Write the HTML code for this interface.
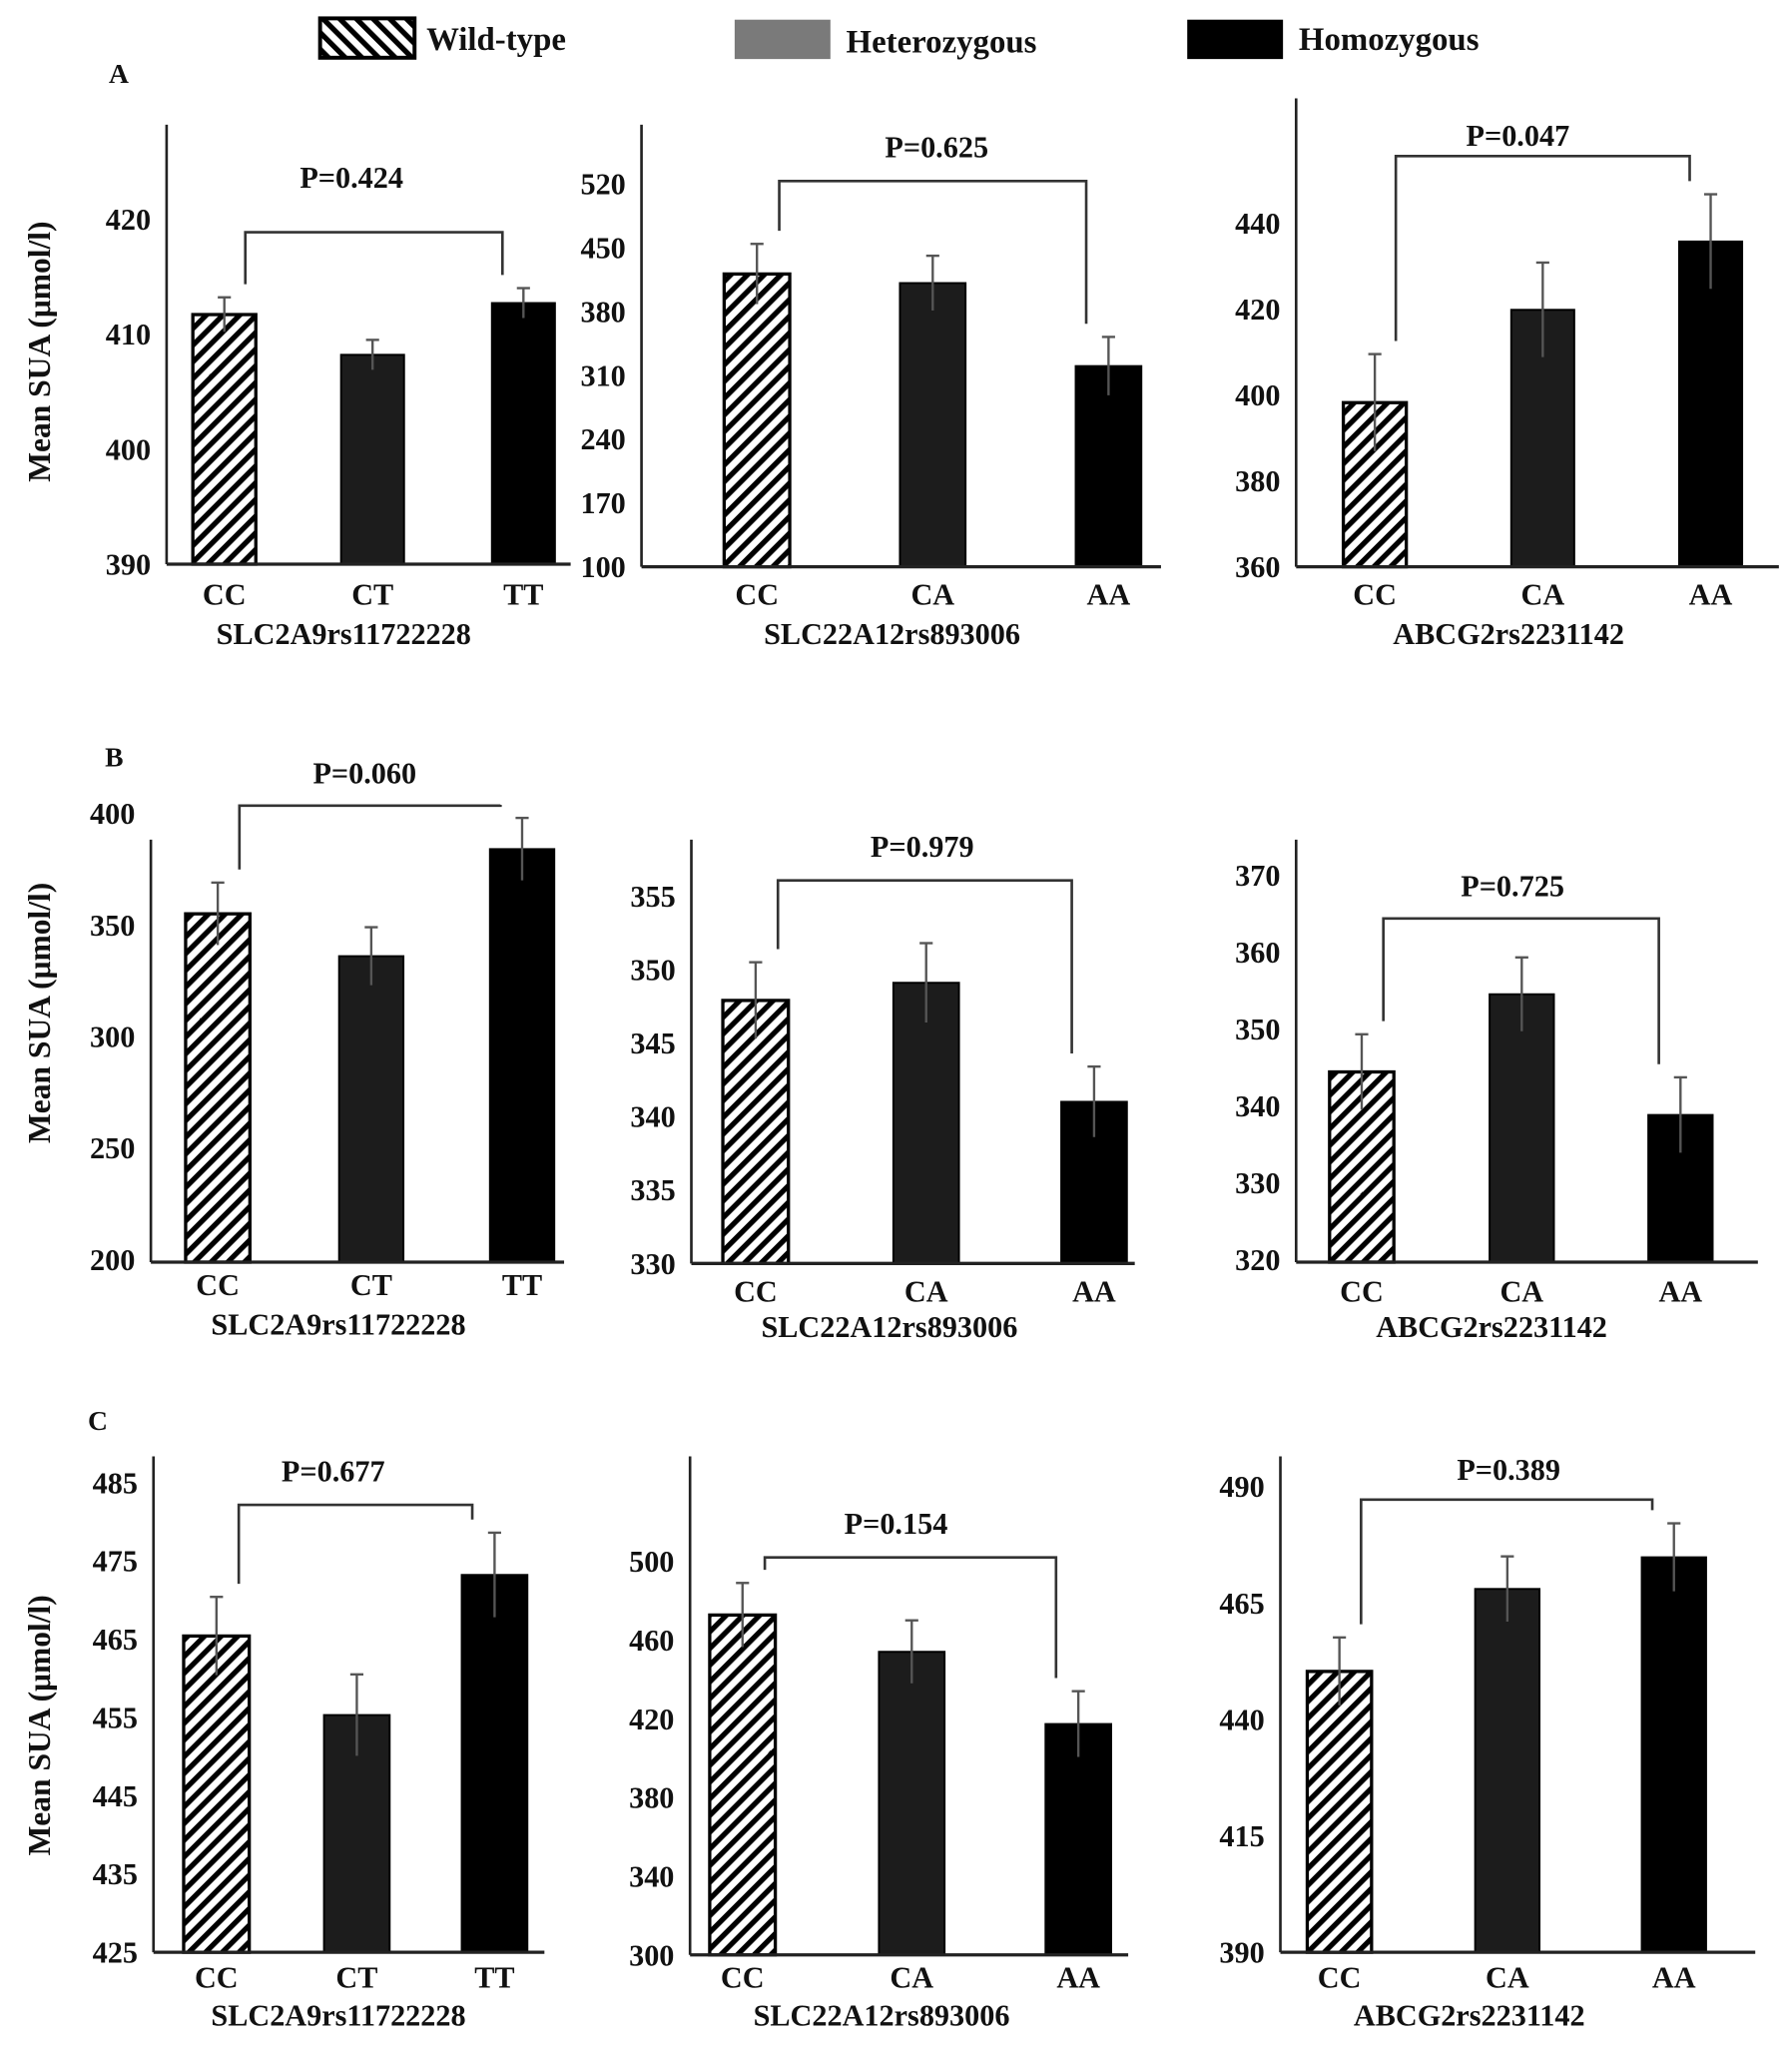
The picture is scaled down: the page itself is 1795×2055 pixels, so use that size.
<!DOCTYPE html>
<html><head><meta charset="utf-8"><style>
html,body{margin:0;padding:0;background:#fff}
svg{display:block}
text{font-family:"Liberation Serif",serif;font-weight:bold;fill:#111}
</style></head><body>
<svg id="fig" width="1795" height="2055" viewBox="0 0 1366 1564" preserveAspectRatio="none" xmlns="http://www.w3.org/2000/svg">
<defs>
<pattern id="hatch" patternUnits="userSpaceOnUse" width="9" height="9" patternTransform="rotate(45)">
<rect width="9" height="9" fill="#fff"/><rect x="0" y="0" width="4" height="9" fill="#000"/>
</pattern>
<pattern id="hatchL" patternUnits="userSpaceOnUse" width="9" height="9" patternTransform="rotate(-45)">
<rect width="9" height="9" fill="#fff"/><rect x="0" y="0" width="4" height="9" fill="#000"/>
</pattern>
</defs>
<g>
<rect x="244" y="14" width="72" height="30" fill="url(#hatchL)" stroke="#000" stroke-width="3"/>
<text x="325" y="38" font-size="25">Wild-type</text>
<rect x="560" y="15" width="73" height="30" fill="#7a7a7a"/>
<text x="645" y="40" font-size="25">Heterozygous</text>
<rect x="905" y="15" width="73" height="30" fill="#000"/>
<text x="990" y="38" font-size="25">Homozygous</text>
</g>
<text x="83" y="63" font-size="21">A</text>
<text x="80" y="584" font-size="21">B</text>
<text x="67" y="1090" font-size="21">C</text>
<text transform="translate(38,268) rotate(-90)" text-anchor="middle" font-size="24">Mean SUA (μmol/l)</text>
<text transform="translate(38,772) rotate(-90)" text-anchor="middle" font-size="24">Mean SUA (μmol/l)</text>
<text transform="translate(38,1315) rotate(-90)" text-anchor="middle" font-size="24">Mean SUA (μmol/l)</text>
</svg>
<script>
// ---- data ----
const genes = ["SLC2A9rs11722228","SLC22A12rs893006","ABCG2rs2231142"];
const catsA = ["CC","CT","TT"];
const catsB = ["CC","CA","AA"];
const pValues = ["P=0.424","P=0.625","P=0.047","P=0.060","P=0.979","P=0.725","P=0.677","P=0.154","P=0.389"];
const meansA1 = [411.7,408.2,412.7]; const errA1 = [1.5,1.3,1.3];
const meansA2 = [421,411,320];       const errA2 = [33,30,32];
const meansA3 = [398.2,419.8,435.7]; const errA3 = [11.3,11,11];
const meansB1 = [355,336,384];       const errB1 = [14,13,14];
const meansB2 = [347.9,349.1,341];   const errB2 = [2.6,2.7,2.4];
const meansB3 = [344.4,354.5,338.8]; const errB3 = [4.9,4.8,4.9];
const meansC1 = [465.4,455.3,473.2]; const errC1 = [5,5.2,5.4];
const meansC2 = [472.7,454,417.3];   const errC2 = [16.3,16,16.7];
const meansC3 = [450.3,468,474.8];   const errC3 = [7.3,7,7.3];
const ticksA1 = [390,400,410,420];
const ticksA2 = [100,170,240,310,380,450,520];
const ticksA3 = [360,380,400,420,440];
const ticksB1 = [200,250,300,350,400];
const ticksB2 = [330,335,340,345,350,355];
const ticksB3 = [320,330,340,350,360,370];
const ticksC1 = [425,435,445,455,465,475,485];
const ticksC2 = [300,340,380,420,460,500];
const ticksC3 = [390,415,440,465,490];

// ---- layout (pixel geometry only) ----
const layouts = [
 {ax:127,top:95,base:430,right:435,pxLo:430,pxHi:167,xs:[171,284,399],bw:48,brY:177,pY:143,pX:268,labY:461,geneY:491,geneX:262},
 {ax:489,top:95,base:432,right:885,pxLo:432,pxHi:140,xs:[577,711,845],bw:50,brY:138,pY:120,pX:714,labY:461,geneY:491,geneX:680},
 {ax:988,top:75,base:432,right:1356,pxLo:432,pxHi:170,xs:[1048,1176,1304],bw:48,brY:119,pY:111,pX:1157,labY:461,geneY:491,geneX:1150},
 {ax:115,top:640,base:962,right:430,pxLo:960,pxHi:620,xs:[166,283,398],bw:49,brY:614,pY:597,pX:278,labY:987,geneY:1017,geneX:258},
 {ax:527,top:640,base:963,right:865,pxLo:963,pxHi:683,xs:[576,706,834],bw:50,brY:671,pY:653,pX:703,labY:992,geneY:1019,geneX:678},
 {ax:988,top:640,base:962,right:1340,pxLo:960,pxHi:667,xs:[1038,1160,1281],bw:49,brY:700,pY:683,pX:1153,labY:992,geneY:1019,geneX:1137},
 {ax:117,top:1110,base:1488,right:415,pxLo:1488,pxHi:1130,xs:[165,272,377],bw:50,brY:1147,pY:1129,pX:254,labY:1515,geneY:1544,geneX:258},
 {ax:526,top:1110,base:1490,right:860,pxLo:1490,pxHi:1190,xs:[566,695,822],bw:50,brY:1187,pY:1169,pX:683,labY:1515,geneY:1544,geneX:672},
 {ax:976,top:1110,base:1488,right:1338,pxLo:1488,pxHi:1133,xs:[1021,1149,1276],bw:49,brY:1143,pY:1128,pX:1150,labY:1515,geneY:1544,geneX:1120}
];
const charts = [
 [meansA1,errA1,ticksA1,catsA,0],[meansA2,errA2,ticksA2,catsB,1],[meansA3,errA3,ticksA3,catsB,2],
 [meansB1,errB1,ticksB1,catsA,0],[meansB2,errB2,ticksB2,catsB,1],[meansB3,errB3,ticksB3,catsB,2],
 [meansC1,errC1,ticksC1,catsA,0],[meansC2,errC2,ticksC2,catsB,1],[meansC3,errC3,ticksC3,catsB,2]
];
const NS="http://www.w3.org/2000/svg";
const svg=document.getElementById('fig');
function mk(tag,attrs,parent){const e=document.createElementNS(NS,tag);for(const k in attrs)e.setAttribute(k,attrs[k]);parent.appendChild(e);return e;}
const fills=["url(#hatch)","#1c1c1c","#000"];
charts.forEach((c,i)=>{
 const [means,errs,ticks,cats,gi]=c; const L=layouts[i];
 const lo=ticks[0], hi=ticks[ticks.length-1];
 const y=v=>L.pxLo-(v-lo)*(L.pxLo-L.pxHi)/(hi-lo);
 const g=mk('g',{},svg);
 
 
 const ya=mk('line',{x1:L.ax,y1:L.top,x2:L.ax,y2:L.base,stroke:'#222','stroke-width':2},g);
 
 
 ticks.forEach(t=>{
  const tx=mk('text',{x:L.ax-12,y:y(t)+8,'text-anchor':'end','font-size':23},g);
  
  
  tx.textContent=t;
 });
 means.forEach((m,j)=>{
  const x=L.xs[j];
  const r=mk('rect',{x:x-L.bw/2,y:y(m),width:L.bw,height:L.base-y(m),fill:fills[j],stroke:'#000','stroke-width':j==0?2.5:1.5},g);
  
  
  const e=mk('line',{x1:x,y1:y(m+errs[j]),x2:x,y2:y(m-errs[j]),stroke:'#555','stroke-width':1.8},g);
  
  
  const cap=mk('line',{x1:x-5,y1:y(m+errs[j]),x2:x+5,y2:y(m+errs[j]),stroke:'#555','stroke-width':1.8},g);
  
  
  const lb=mk('text',{x:x,y:L.labY,'text-anchor':'middle','font-size':23},g);
  
  
  lb.textContent=cats[j];
 });
 const xa=mk('line',{x1:L.ax,y1:L.base,x2:L.right,y2:L.base,stroke:'#222','stroke-width':2.5},g);
 
 
 const x0=L.xs[0]+L.bw/2-8, x2=L.xs[2]-L.bw/2+8;
 const yl=y(means[0]+errs[0])-10, yr=y(means[2]+errs[2])-10;
 const br=mk('polyline',{points:`${x0},${yl} ${x0},${L.brY} ${x2},${L.brY} ${x2},${yr}`,fill:'none',stroke:'#333','stroke-width':2},g);
 
 
 const pt=mk('text',{x:L.pX,y:L.pY,'text-anchor':'middle','font-size':23},g);
 
 
 pt.textContent=pValues[i];
 const gn=mk('text',{x:L.geneX,y:L.geneY,'text-anchor':'middle','font-size':23},g);
 
 
 gn.textContent=genes[gi];
});
</script>
</body></html>
